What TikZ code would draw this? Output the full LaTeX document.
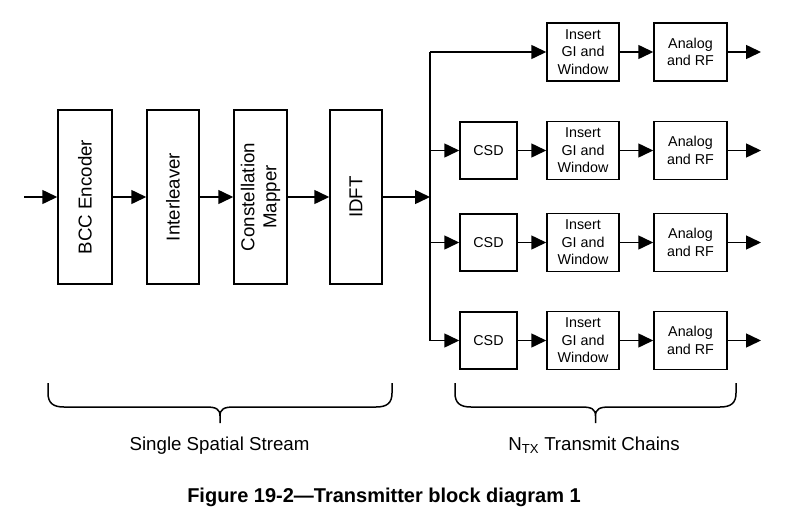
\documentclass[tikz,border=0pt]{standalone}
\usepackage{fontspec}
\setmainfont{Liberation Sans}
\usetikzlibrary{arrows.meta}
\newcommand\mybrace[3]{%
  \draw[line width=1.5pt] (#1,383) -- (#1,393) .. controls (#1,403) and (#1+5,407) .. (#1+16,407)
    -- (#2-14,407) .. controls (#2-4,407) and (#2,409) .. (#2,416) -- (#2,423)
    (#2,416) .. controls (#2,409) and (#2+4,407) .. (#2+14,407)
    -- (#3-16,407) .. controls (#3-5,407) and (#3,403) .. (#3,393) -- (#3,383);}
\begin{document}
\begin{tikzpicture}[x=1pt,y=-1pt,
  line width=1.5pt,
  arr/.style={-{Triangle[length=15pt,width=14pt]}},
  tallbox/.style={draw, rectangle, minimum height=174pt, inner sep=0pt},
  tallbox text/.style={rotate=90, align=center, inner sep=0pt, font=\fontsize{18.7}{22}\selectfont},
  smallbox/.style={draw, rectangle, minimum height=58pt, inner sep=0pt, align=center,
    font=\fontsize{14.3}{17.5}\selectfont},
  lab/.style={anchor=base, font=\fontsize{18.7}{22}\selectfont},
]
\useasboundingbox (0,0) rectangle (786,514);

% single spatial stream
\coordinate (in) at (24,197);
\node[tallbox, minimum width=54pt] (bcc) at (85,197) {};
\node[tallbox text] (bcct) at (bcc) {BCC Encoder};
\node[tallbox, minimum width=52pt] (inter) at (173,197) {};
\node[tallbox text] (intert) at (inter) {Interleaver};
\node[tallbox, minimum width=53pt] (const) at (260.5,197) {};
\node[tallbox text] (constt) at (const) {Constellation\\Mapper};
\node[tallbox, minimum width=52pt] (idft) at (356,197) {};
\node[tallbox text] (idftt) at (idft) {IDFT};

\draw[arr] (in) -- (bcc.west);
\draw[arr] (bcc.east) -- (inter.west);
\draw[arr] (inter.east) -- (const.west);
\draw[arr] (const.east) -- (idft.west);

% bus
\coordinate (j) at (430,197);
\coordinate (t1) at (430,52);
\coordinate (t2) at (430,150.5);
\coordinate (t3) at (430,242.5);
\coordinate (t4) at (430,340.5);
\draw[arr] (idft.east) -- (j);
\draw (t1) -- (t4);

% chain 1
\node[smallbox, minimum width=72pt] (gi1) at (583,52) {Insert\\GI and\\Window};
\node[smallbox, minimum width=73pt] (rf1) at (690.5,52) {Analog\\and RF};
\coordinate (o1) at (761,52);
\draw[arr] (t1) -- (gi1.west);
\draw[arr] (gi1.east) -- (rf1.west);
\draw[arr] (rf1.east) -- (o1);

% chains 2-4
\foreach \i/\y in {2/150.5, 3/242.5, 4/340.5}{
  \node[smallbox, minimum width=57pt, minimum height=57pt] (csd\i) at (488.5,\y) {CSD};
  \node[smallbox, minimum width=72pt] (gi\i) at (583,\y) {Insert\\GI and\\Window};
  \node[smallbox, minimum width=73pt] (rf\i) at (690.5,\y) {Analog\\and RF};
  \coordinate (o\i) at (761,\y);
  \draw[arr] (t\i) -- (csd\i.west);
  \draw[arr] (csd\i.east) -- (gi\i.west);
  \draw[arr] (gi\i.east) -- (rf\i.west);
  \draw[arr] (rf\i.east) -- (o\i);
}

% braces
\mybrace{48}{220}{392}
\mybrace{455}{595.5}{736}

\node[lab] (l1) at (219.5,450) {Single Spatial Stream};
\node[lab] (l2) at (594,450) {N\textsubscript{TX} Transmit Chains};

\node[anchor=base, font=\bfseries\fontsize{20}{24}\selectfont] (cap) at (384,502) {Figure 19-2—Transmitter block diagram 1};
\end{tikzpicture}
\end{document}
